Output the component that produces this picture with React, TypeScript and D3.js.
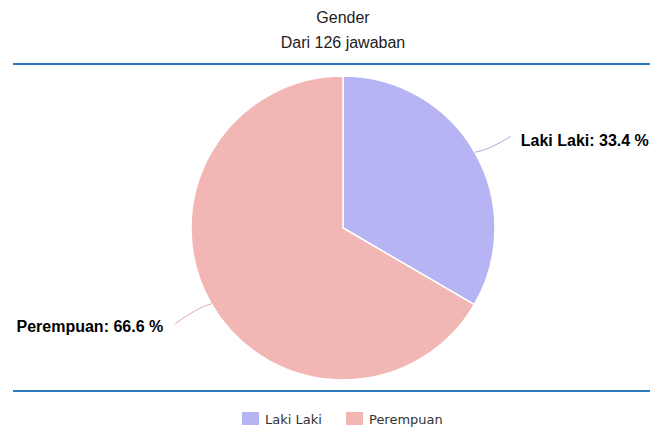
import React, { useEffect } from 'react';
import * as d3 from 'd3';

const categories = ['Laki Laki', 'Perempuan'];
const percentages = [33.4, 66.6];
const sliceColors = ['#b6b4f2', '#f2b6b4'];
const titleLines = ['Gender', 'Dari 126 jawaban'];

const W = 650;
const H = 427;
const cx = 343;
const cy = 228;
const radius = 152;

const App: React.FC = () => {
  useEffect(() => {
    document.body.style.margin = '0';
  }, []);

  const pie = d3.pie<number>().sort(null).value(d => d)(percentages);
  const arc = d3.arc<d3.PieArcDatum<number>>().innerRadius(0).outerRadius(radius);

  // leader line + label positions, worked out from each slice's mid angle
  const labels = pie.map((p, i) => {
    const mid = (p.startAngle + p.endAngle) / 2;
    const sx = Math.sin(mid) * radius;
    const sy = -Math.cos(mid) * radius;
    const right = sx > 0;
    const ex = sx + (right ? 36 : -36);
    const ey = sy + (right ? -16 : 20);
    const qx = sx + (right ? 14 : -14);
    const qy = sy + (right ? -2 : 4);
    return {
      path: `M${sx},${sy} Q${qx},${qy} ${ex},${ey}`,
      tx: right ? ex + 10 : ex - 12,
      ty: ey + (right ? 10 : 8),
      anchor: right ? 'start' : 'end',
      text: `${categories[i]}: ${percentages[i].toFixed(1)} %`,
      color: d3.color(sliceColors[i])!.darker(0.2).toString(),
    };
  });

  const legendX = d3.scaleOrdinal<string, number>().domain(categories).range([242, 346]);

  return (
    <svg width={W} height={H} style={{ display: 'block', background: '#fff' }}>
      <g fontFamily="'Liberation Sans', Arial, sans-serif" fontSize={16} fill="#222" textAnchor="middle">
        {titleLines.map((t, i) => (
          <text key={t} x={cx} y={23 + i * 25}>{t}</text>
        ))}
      </g>
      <line x1={13} x2={W} y1={64} y2={64} stroke="#2a7bbf" strokeWidth={2.2} />
      <line x1={13} x2={W} y1={391} y2={391} stroke="#2a7bbf" strokeWidth={2.2} />

      <g transform={`translate(${cx},${cy})`}>
        {pie.map((p, i) => (
          <path key={categories[i]} d={arc(p) || ''} fill={sliceColors[i]} stroke="#fff" strokeWidth={1.5} />
        ))}
        {labels.map(l => (
          <g key={l.text}>
            <path d={l.path} fill="none" stroke={l.color} strokeWidth={1} />
            <text x={l.tx} y={l.ty} textAnchor={l.anchor} fontFamily="'Liberation Sans', Arial, sans-serif"
              fontSize={16} fontWeight="bold" fill="#000">{l.text}</text>
          </g>
        ))}
      </g>

      <g fontFamily="'DejaVu Sans', Verdana, sans-serif" fontSize={13} fill="#333">
        {categories.map((c, i) => (
          <g key={c} transform={`translate(${legendX(c)},412)`}>
            <rect width={17} height={13} fill={sliceColors[i]} />
            <text x={23} y={12}>{c}</text>
          </g>
        ))}
      </g>
    </svg>
  );
};

export default App;
